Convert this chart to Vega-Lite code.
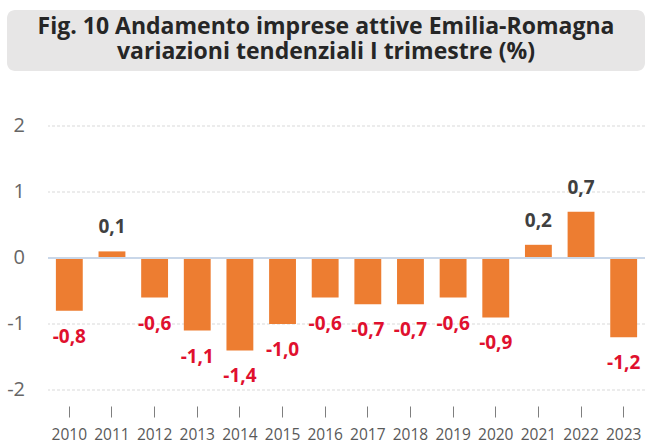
{
  "$schema": "https://vega.github.io/schema/vega-lite/v6.json",
  "background": "white",
  "padding": {"left": 7, "top": 10, "right": 4, "bottom": 0},
  "spacing": 45,
  "config": {
    "view": {"stroke": null},
    "font": "Open Sans",
    "locale": {"number": {"decimal": ",", "thousands": ".", "grouping": [3], "currency": ["€", ""], "minus": "-"}}
  },
  "vconcat": [
    {
      "width": 638,
      "height": 61,
      "view": {"fill": "#e7e6e6", "stroke": null, "cornerRadius": 8},
      "data": {"values": [
        {"riga": 1, "testo": "Fig. 10 Andamento imprese attive Emilia-Romagna"},
        {"riga": 2, "testo": "variazioni tendenziali I trimestre (%)"}
      ]},
      "mark": {"type": "text", "font": "Open Sans", "fontWeight": "bold", "fontSize": 23, "color": "#262626", "dy": -1},
      "encoding": {
        "y": {"field": "riga", "type": "ordinal", "axis": null, "scale": {"padding": 0.75}},
        "text": {"field": "testo"}
      }
    },
    {
      "spacing": 4,
      "hconcat": [
        {
          "width": 36,
          "height": 264,
          "data": {"values": [{"v": 2}, {"v": 1}, {"v": 0}, {"v": -1}, {"v": -2}]},
          "mark": {"type": "text", "align": "right", "baseline": "middle", "fontSize": 20, "color": "#666666", "font": "Open Sans"},
          "encoding": {
            "y": {"field": "v", "type": "quantitative", "scale": {"domain": [-2, 2], "nice": false}, "axis": null},
            "text": {"field": "v", "type": "quantitative", "format": "d"}
          }
        },
        {
          "width": 597,
          "height": 264,
          "data": {"values": [
            {"anno": "2010", "var": -0.8},
            {"anno": "2011", "var": 0.1},
            {"anno": "2012", "var": -0.6},
            {"anno": "2013", "var": -1.1},
            {"anno": "2014", "var": -1.4},
            {"anno": "2015", "var": -1.0},
            {"anno": "2016", "var": -0.6},
            {"anno": "2017", "var": -0.7},
            {"anno": "2018", "var": -0.7},
            {"anno": "2019", "var": -0.6},
            {"anno": "2020", "var": -0.9},
            {"anno": "2021", "var": 0.2},
            {"anno": "2022", "var": 0.7},
            {"anno": "2023", "var": -1.2}
          ]},
          "layer": [
            {
              "data": {"values": [{"g": 2}, {"g": 1}, {"g": -1}, {"g": -2}]},
              "mark": {"type": "rule", "color": "#d9d9d9", "strokeDash": [3, 2], "strokeWidth": 1},
              "encoding": {"y": {"field": "g", "type": "quantitative", "scale": {"domain": [-2, 2], "nice": false}, "axis": null}}
            },
            {
              "mark": {"type": "bar", "color": "#ed7d31"},
              "encoding": {
                "x": {
                  "field": "anno", "type": "ordinal",
                  "scale": {"paddingInner": 0.37, "paddingOuter": 0.185},
                  "axis": {"title": null, "labelAngle": 0, "domain": false, "offset": 16, "tickSize": 11, "tickColor": "#7f7f7f", "labelFontSize": 15.5, "labelColor": "#595959", "labelPadding": 10, "labelFont": "Open Sans"}
                },
                "y": {"field": "var", "type": "quantitative", "scale": {"domain": [-2, 2], "nice": false}, "axis": null}
              }
            },
            {
              "mark": {"type": "rule", "color": "#c9d7e8", "strokeWidth": 1.5},
              "encoding": {"y": {"datum": 0, "type": "quantitative"}}
            },
            {
              "transform": [{"filter": "datum.var < 0"}],
              "mark": {"type": "text", "fontWeight": "bold", "fontSize": 19, "color": "#e0102e", "baseline": "middle", "dy": 26},
              "encoding": {
                "x": {"field": "anno", "type": "ordinal"},
                "y": {"field": "var", "type": "quantitative"},
                "text": {"field": "var", "type": "quantitative", "format": ".1f"}
              }
            },
            {
              "transform": [{"filter": "datum.var >= 0"}],
              "mark": {"type": "text", "fontWeight": "bold", "fontSize": 19, "color": "#404040", "baseline": "middle", "dy": -24},
              "encoding": {
                "x": {"field": "anno", "type": "ordinal"},
                "y": {"field": "var", "type": "quantitative"},
                "text": {"field": "var", "type": "quantitative", "format": ".1f"}
              }
            }
          ]
        }
      ]
    }
  ]
}
